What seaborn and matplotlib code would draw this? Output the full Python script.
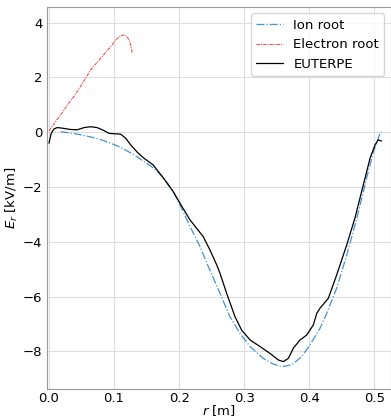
import numpy as np
import pandas as pd
import matplotlib
matplotlib.use("Agg")
import matplotlib.pyplot as plt
import seaborn as sns

# Ion root (blue, dash-dot)
ion_r = [0.018, 0.030, 0.0435, 0.056, 0.069, 0.082, 0.0948, 0.108, 0.120, 0.133, 0.146,
         0.161, 0.176, 0.191, 0.2013, 0.2167, 0.232, 0.2448, 0.2628, 0.278, 0.2935,
         0.309, 0.329, 0.3447, 0.3576, 0.373, 0.3883, 0.401, 0.4165, 0.4268, 0.442,
         0.4575, 0.473, 0.488, 0.4985, 0.5087, 0.511]
ion_E = [0.02, -0.02, -0.07, -0.13, -0.20, -0.29, -0.40, -0.53, -0.68, -0.86, -1.07,
         -1.31, -1.65, -2.17, -2.65, -3.44, -4.17, -4.90, -5.88, -6.73, -7.34,
         -7.82, -8.25, -8.46, -8.55, -8.49, -8.19, -7.76, -7.15, -6.61, -5.69,
         -4.48, -3.14, -1.68, -0.71, -0.04, 0.02]

# Electron root (red)
ele_r = [0.0, 0.023, 0.0435, 0.064, 0.0794, 0.0948, 0.104, 0.110, 0.115, 0.120, 0.1245, 0.128]
ele_E = [0.05, 0.81, 1.48, 2.27, 2.70, 3.12, 3.40, 3.52, 3.55, 3.49, 3.30, 2.88]

# EUTERPE (black)
eut_r = [0.0, 0.0035, 0.0077, 0.0128, 0.020, 0.033, 0.0435, 0.054, 0.064, 0.074,
         0.0845, 0.092, 0.1025, 0.110, 0.118, 0.1255, 0.1357, 0.146, 0.160, 0.176,
         0.191, 0.2013, 0.2167, 0.237, 0.2474, 0.2577, 0.2628, 0.273, 0.2858, 0.296,
         0.309, 0.3243, 0.3396, 0.3524, 0.360, 0.3678, 0.3755, 0.3857, 0.396, 0.4062,
         0.4114, 0.4165, 0.4292, 0.442, 0.4575, 0.470, 0.483, 0.4933, 0.501, 0.506,
         0.511]
eut_E = [-0.40, -0.04, 0.12, 0.17, 0.15, 0.10, 0.09, 0.17, 0.20, 0.17,
         0.06, -0.04, -0.06, -0.07, -0.22, -0.46, -0.73, -0.95, -1.19, -1.68,
         -2.17, -2.59, -3.20, -3.81, -4.30, -4.84, -5.15, -5.88, -6.73, -7.22,
         -7.58, -7.82, -8.07, -8.31, -8.37, -8.25, -7.88, -7.58, -7.40, -7.03,
         -6.61, -6.42, -6.06, -5.21, -4.11, -3.14, -1.92, -0.95, -0.46, -0.28,
         -0.32]

sns.set_style("whitegrid", {"axes.edgecolor": "0.6", "grid.color": "0.87",
                            "text.color": "black", "xtick.color": "black",
                            "ytick.color": "black", "axes.labelcolor": "black"})
plt.rcParams['font.family'] = ['DejaVu Sans']
plt.rcParams['font.size'] = 9.5

fig = plt.figure(figsize=(3.91, 4.19), dpi=100)
ax = fig.add_axes([0.1194, 0.0709, 0.8806, 0.9131])

df_ion = pd.DataFrame({"r": ion_r, "E": ion_E})
df_ele = pd.DataFrame({"r": ele_r, "E": ele_E})
df_eut = pd.DataFrame({"r": eut_r, "E": eut_E})

sns.lineplot(data=df_ion, x="r", y="E", ax=ax, color="#2f86cc", lw=0.9,
             linestyle="-.", label="Ion root", sort=False, alpha=0.9)
sns.lineplot(data=df_ele, x="r", y="E", ax=ax, color="#e83030", lw=0.8,
             linestyle=(0, (3, 1, 1, 1)), label="Electron root", sort=False, alpha=0.85)
sns.lineplot(data=df_eut, x="r", y="E", ax=ax, color="black", lw=0.9,
             label="EUTERPE", sort=False)

ax.set_xlim(-0.0035, 0.5255)
ax.set_ylim(-9.38, 4.58)
ax.set_xticks([0.0, 0.1, 0.2, 0.3, 0.4, 0.5])
ax.set_yticks([-8, -6, -4, -2, 0, 2, 4])
ax.tick_params(labelsize=9.5, length=0, pad=3, colors="black")
ax.tick_params(axis="x", pad=2)
ax.set_xlabel(r"$r$ [m]", fontsize=9.5, labelpad=-1.5, color="black")
ax.set_ylabel(r"$E_r$ [kV/m]", fontsize=9.5, labelpad=2, color="black")
leg = ax.legend(loc="upper right", fontsize=9.5, frameon=True)
for t in leg.get_texts():
    t.set_color("black")

fig.savefig("out.png", dpi=100)
